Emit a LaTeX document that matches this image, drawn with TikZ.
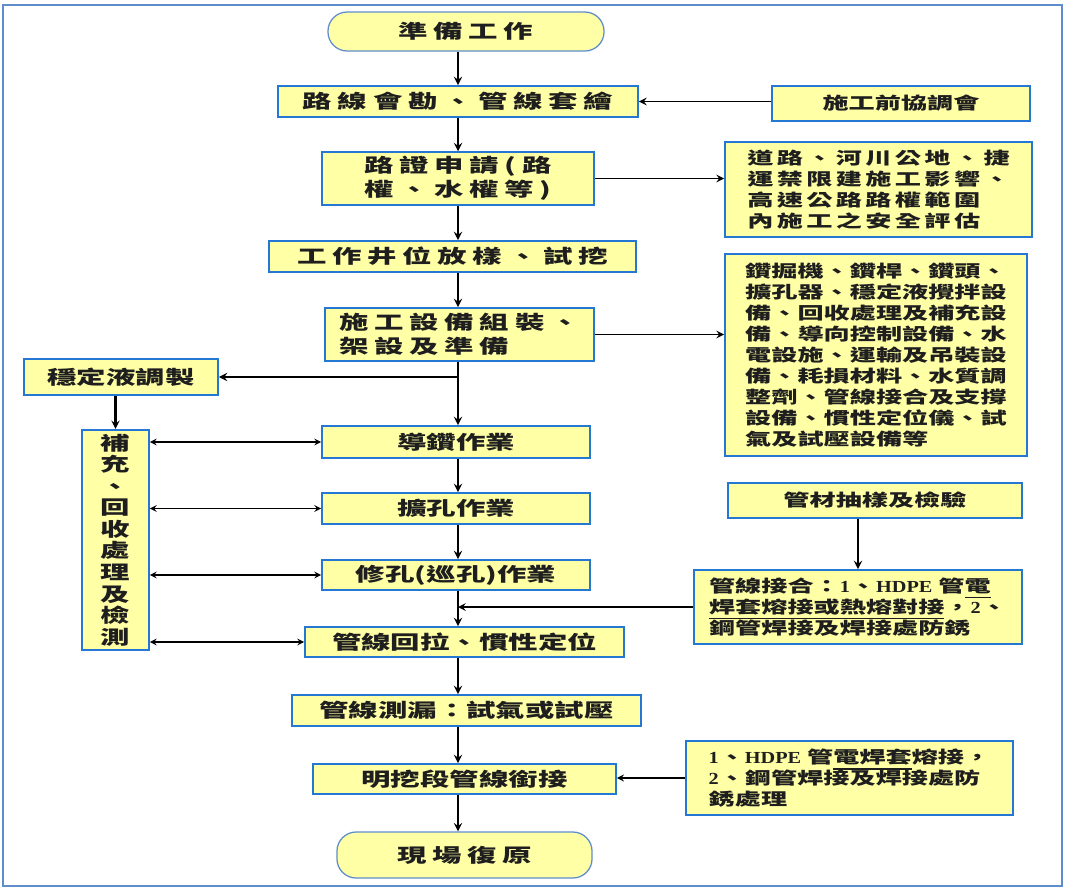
\documentclass[tikz,border=0pt]{standalone}
\usepackage{fontspec}
\usepackage{xcolor}
\usepackage{tikz}
\usetikzlibrary{positioning}
\newfontfamily\cjkm[FakeStretch=1.55]{Noto Sans CJK TC}
\newfontfamily\cjkw[FakeStretch=1.55,LetterSpace=30]{Noto Sans CJK TC}
\newfontfamily\cjks[FakeStretch=1.55,LetterSpace=20]{Noto Sans CJK TC}
\newfontfamily\latr[FakeStretch=1.2]{Liberation Serif}
\definecolor{boxyel}{HTML}{FFFFA6}
\definecolor{boxblue}{HTML}{2478D4}
\definecolor{frameblue}{HTML}{5F8DCB}
\definecolor{inkgray}{HTML}{1E1E1E}
\newsavebox\ulbox
\newlength\ulgap
\newcommand\ulmark[3]{#2\sbox\ulbox{#3}\setlength\ulgap{\wd\ulbox}\usebox\ulbox\tikz[baseline=0pt]{\path[use as bounding box] (0pt,0pt) rectangle (0pt,1pt); \fill[inkgray] (\the\dimexpr-\ulgap-#1\relax,-3.4pt) rectangle (\the\dimexpr-\ulgap\relax,-4.3pt);}}
\tikzset{blk/.style={draw=boxblue,fill=boxyel,line width=1.3pt,inner sep=3pt,text=inkgray,align=center,font=\cjkm\bfseries\fontsize{13.5}{15.5}\selectfont}}
\tikzset{wblk/.style={blk,font=\cjkw\bfseries\fontsize{13.5}{17}\selectfont}}
\tikzset{sblk/.style={blk,font=\cjkm\bfseries\fontsize{12}{14.9}\selectfont}}
\tikzset{term/.style={wblk,draw=frameblue,line width=0.9pt,rounded corners=0.48cm}}
\tikzset{arr/.style={->,line width=1.6pt}}
\tikzset{darr/.style={<->,line width=1.1pt}}

\begin{document}
\begin{tikzpicture}[>=stealth,x=0.025cm,y=-0.025cm]
    \useasboundingbox (0,0) rectangle (1066,890);
    \draw [frameblue,line width=1pt] (3,5) rectangle (1062,886);
    \coordinate (spine) at (458,0);

    \node[term,minimum width=6.9cm,minimum height=0.975cm] (prep) at (466,31.5) {準備工作};
    \node[wblk,minimum width=9cm,minimum height=0.775cm] (survey) at (458,101.5) {路線會勘、管線套繪};
    \node[wblk,align=left,minimum width=6.8cm,minimum height=1.275cm] (permit) at (458,178.5) {路證申請(路\\權、水權等)};
    \node[wblk,minimum width=9.175cm,minimum height=0.775cm] (stake) at (452.5,256.5) {工作井位放樣、試挖};
    \node[wblk,align=left,minimum width=6.725cm,minimum height=1.325cm] (setup) at (459.5,334.5) {施工設備組裝、\\架設及準備};
    \node[blk,minimum width=4.85cm,minimum height=0.9cm] (slurry) at (121,377) {穩定液調製};
    \node[blk,font=\cjkm\bfseries\fontsize{13.5}{15.3}\selectfont,minimum width=1.675cm,minimum height=5.5cm] (recycle) at (115.5,540) {補\\充\\、\\回\\收\\處\\理\\及\\檢\\測};
    \node[blk,minimum width=6.7cm,minimum height=0.8cm] (pilot) at (456,442) {導鑽作業};
    \node[blk,minimum width=6.7cm,minimum height=0.775cm] (ream) at (456,508.5) {擴孔作業};
    \node[blk,minimum width=6.7cm,minimum height=0.75cm] (clean) at (456,575) {修孔(巡孔)作業};
    \node[blk,minimum width=7.975cm,minimum height=0.75cm] (pull) at (464.5,642) {管線回拉、慣性定位};
    \node[blk,minimum width=8.725cm,minimum height=0.775cm] (leak) at (466.5,710.5) {管線測漏：試氣或試壓};
    \node[blk,minimum width=7.575cm,minimum height=0.75cm] (joint) at (464.5,779) {明挖段管線銜接};
    \node[term,minimum width=6.375cm,minimum height=1.15cm] (restore) at (464.5,855) {現場復原};

    \node[sblk,minimum width=6.45cm,minimum height=0.875cm] (meet) at (901,103.5) {施工前協調會};
    \node[sblk,font=\cjks\bfseries\fontsize{12}{14.9}\selectfont,align=left,minimum width=7.675cm,minimum height=2.375cm] (safety) at (878.5,189.5) {道路、河川公地、捷\\運禁限建施工影響、\\高速公路路權範圍\\內施工之安全評估};
    \node[sblk,align=left,minimum width=7.55cm,minimum height=5.05cm] (equip) at (876,355) {鑽掘機、鑽桿、鑽頭、\\擴孔器、穩定液攪拌設\\備、回收處理及補充設\\備、導向控制設備、水\\電設施、運輸及吊裝設\\備、耗損材料、水質調\\整劑、管線接合及支撐\\設備、慣性定位儀、試\\氣及試壓設備等};
    \node[sblk,minimum width=7.35cm,minimum height=0.875cm] (sample) at (875,500.5) {管材抽樣及檢驗};
    \node[sblk,align=left,minimum width=8.2cm,minimum height=1.85cm] (weld) at (858,607) {管線接合：{\latr 1}、{\latr HDPE} 管\ulmark{18.6pt}{電}{}\\\ulmark{167.4pt}{焊套熔接或熱熔對接}{，{\latr 2}、}\\鋼管焊接及焊接處防銹};
    \node[sblk,align=left,minimum width=8.175cm,minimum height=1.85cm] (weld2) at (849.5,778) {{\latr 1}、{\latr HDPE} 管\ulmark{55.8pt}{電焊套}{熔接，}\\{\latr 2}、鋼管焊接及焊接處防\\銹處理};

    \draw [arr] (prep.south -| spine) to [] (survey.north -| spine);
    \draw [arr] (survey.south -| spine) to [] (permit.north -| spine);
    \draw [arr] (permit.south -| spine) to [] (stake.north -| spine);
    \draw [arr] (stake.south -| spine) to [] (setup.north -| spine);
    \draw [arr] (setup.south -| spine) to [] (pilot.north -| spine);
    \coordinate (split) at (slurry.east -| spine);
    \draw [arr] (split) to [] (slurry.east);
    \draw [arr] (recycle.north |- slurry.south) to [] (recycle.north);
    \draw [arr] (pilot.south -| spine) to [] (ream.north -| spine);
    \draw [arr] (ream.south -| spine) to [] (clean.north -| spine);
    \draw [arr] (clean.south -| spine) to [] (pull.north -| spine);
    \draw [arr] (pull.south -| spine) to [] (leak.north -| spine);
    \draw [arr] (leak.south -| spine) to [] (joint.north -| spine);
    \draw [arr] (joint.south -| spine) to [] (restore.north -| spine);

    \draw [darr] (recycle.east |- pilot.west) to [] (pilot.west);
    \draw [darr] (recycle.east |- ream.west) to [] (ream.west);
    \draw [darr] (recycle.east |- clean.west) to [] (clean.west);
    \draw [darr] (recycle.east |- pull.west) to [] (pull.west);

    \draw [arr,line width=1.4pt] (meet.west |- survey.east) to [] (survey.east);
    \draw [arr,line width=1.4pt] (permit.east) to [] (permit.east -| safety.west);
    \draw [arr,line width=1.4pt] (setup.east) to [] (setup.east -| equip.west);
    \draw [arr] (sample.south -| weld.north) to [] (weld.north);
    \coordinate (merge) at (weld.west -| spine);
    \draw [arr,line width=1.4pt] (weld.west) to [] (merge);
    \draw [arr,line width=1.2pt] (weld2.west) to [] (weld2.west -| joint.east);
\end{tikzpicture}
\end{document}
